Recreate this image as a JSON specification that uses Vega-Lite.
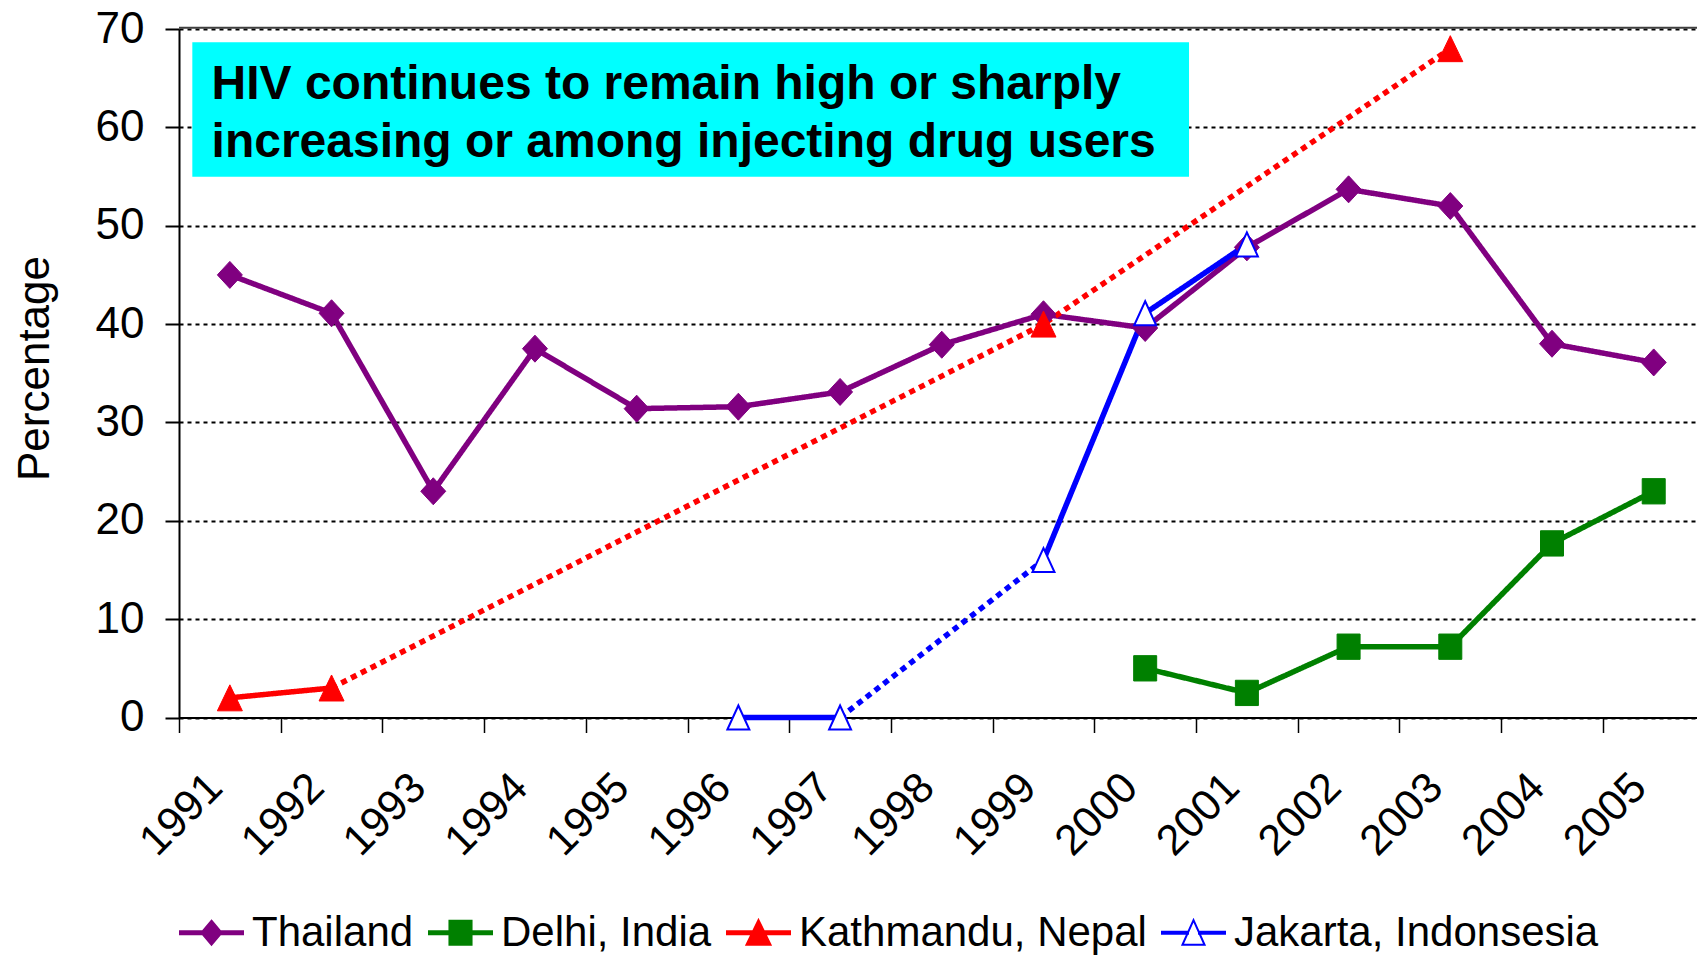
{
  "$schema": "https://vega.github.io/schema/vega-lite/v6.json",
  "autosize": {"type": "none"},
  "padding": {"left": 179, "right": 0, "top": 29, "bottom": 237.5},
  "width": 1518,
  "height": 688.5,
  "background": "white",
  "config": {
    "font": "Liberation Sans",
    "view": {"stroke": null},
    "legend": {
      "labelFontSize": 42,
      "labelColor": "black",
      "labelFont": "Liberation Sans",
      "labelLimit": 0,
      "labelOffset": 7,
      "columnPadding": 10,
      "padding": 0,
      "symbolSize": 4225,
      "symbolStrokeWidth": 2,
      "symbolFillColor": "white",
      "symbolOpacity": 1
    }
  },
  "datasets": {
    "points": [
      {"country": "Thailand", "year": 1991, "value": 45.0},
      {"country": "Thailand", "year": 1992, "value": 41.1},
      {"country": "Thailand", "year": 1993, "value": 23.0},
      {"country": "Thailand", "year": 1994, "value": 37.5},
      {"country": "Thailand", "year": 1995, "value": 31.4},
      {"country": "Thailand", "year": 1996, "value": 31.6},
      {"country": "Thailand", "year": 1997, "value": 33.1},
      {"country": "Thailand", "year": 1998, "value": 37.9},
      {"country": "Thailand", "year": 1999, "value": 41.0},
      {"country": "Thailand", "year": 2000, "value": 39.6},
      {"country": "Thailand", "year": 2001, "value": 47.8},
      {"country": "Thailand", "year": 2002, "value": 53.7},
      {"country": "Thailand", "year": 2003, "value": 52.0},
      {"country": "Thailand", "year": 2004, "value": 38.0},
      {"country": "Thailand", "year": 2005, "value": 36.1},
      {"country": "Delhi, India", "year": 2000, "value": 5.0},
      {"country": "Delhi, India", "year": 2001, "value": 2.5},
      {"country": "Delhi, India", "year": 2002, "value": 7.2},
      {"country": "Delhi, India", "year": 2003, "value": 7.2},
      {"country": "Delhi, India", "year": 2004, "value": 17.7},
      {"country": "Delhi, India", "year": 2005, "value": 23.0},
      {"country": "Kathmandu, Nepal", "year": 1991, "value": 2.0},
      {"country": "Kathmandu, Nepal", "year": 1992, "value": 3.0},
      {"country": "Kathmandu, Nepal", "year": 1999, "value": 40.0},
      {"country": "Kathmandu, Nepal", "year": 2003, "value": 68.0},
      {"country": "Jakarta, Indonsesia", "year": 1996, "value": 0.0},
      {"country": "Jakarta, Indonsesia", "year": 1997, "value": 0.0},
      {"country": "Jakarta, Indonsesia", "year": 1999, "value": 16.0},
      {"country": "Jakarta, Indonsesia", "year": 2000, "value": 41.1},
      {"country": "Jakarta, Indonsesia", "year": 2001, "value": 48.1}
    ],
    "segments": [
      {"country": "Thailand", "seg": "T", "span": "observed", "year": 1991, "value": 45.0},
      {"country": "Thailand", "seg": "T", "span": "observed", "year": 1992, "value": 41.1},
      {"country": "Thailand", "seg": "T", "span": "observed", "year": 1993, "value": 23.0},
      {"country": "Thailand", "seg": "T", "span": "observed", "year": 1994, "value": 37.5},
      {"country": "Thailand", "seg": "T", "span": "observed", "year": 1995, "value": 31.4},
      {"country": "Thailand", "seg": "T", "span": "observed", "year": 1996, "value": 31.6},
      {"country": "Thailand", "seg": "T", "span": "observed", "year": 1997, "value": 33.1},
      {"country": "Thailand", "seg": "T", "span": "observed", "year": 1998, "value": 37.9},
      {"country": "Thailand", "seg": "T", "span": "observed", "year": 1999, "value": 41.0},
      {"country": "Thailand", "seg": "T", "span": "observed", "year": 2000, "value": 39.6},
      {"country": "Thailand", "seg": "T", "span": "observed", "year": 2001, "value": 47.8},
      {"country": "Thailand", "seg": "T", "span": "observed", "year": 2002, "value": 53.7},
      {"country": "Thailand", "seg": "T", "span": "observed", "year": 2003, "value": 52.0},
      {"country": "Thailand", "seg": "T", "span": "observed", "year": 2004, "value": 38.0},
      {"country": "Thailand", "seg": "T", "span": "observed", "year": 2005, "value": 36.1},
      {"country": "Delhi, India", "seg": "D", "span": "observed", "year": 2000, "value": 5.0},
      {"country": "Delhi, India", "seg": "D", "span": "observed", "year": 2001, "value": 2.5},
      {"country": "Delhi, India", "seg": "D", "span": "observed", "year": 2002, "value": 7.2},
      {"country": "Delhi, India", "seg": "D", "span": "observed", "year": 2003, "value": 7.2},
      {"country": "Delhi, India", "seg": "D", "span": "observed", "year": 2004, "value": 17.7},
      {"country": "Delhi, India", "seg": "D", "span": "observed", "year": 2005, "value": 23.0},
      {"country": "Kathmandu, Nepal", "seg": "K1", "span": "observed", "year": 1991, "value": 2.0},
      {"country": "Kathmandu, Nepal", "seg": "K1", "span": "observed", "year": 1992, "value": 3.0},
      {"country": "Kathmandu, Nepal", "seg": "K2", "span": "gap", "year": 1992, "value": 3.0},
      {"country": "Kathmandu, Nepal", "seg": "K2", "span": "gap", "year": 1999, "value": 40.0},
      {"country": "Kathmandu, Nepal", "seg": "K2", "span": "gap", "year": 2003, "value": 68.0},
      {"country": "Jakarta, Indonsesia", "seg": "J1", "span": "observed", "year": 1996, "value": 0.0},
      {"country": "Jakarta, Indonsesia", "seg": "J1", "span": "observed", "year": 1997, "value": 0.0},
      {"country": "Jakarta, Indonsesia", "seg": "J2", "span": "gap", "year": 1997, "value": 0.0},
      {"country": "Jakarta, Indonsesia", "seg": "J2", "span": "gap", "year": 1999, "value": 16.0},
      {"country": "Jakarta, Indonsesia", "seg": "J3", "span": "observed", "year": 1999, "value": 16.0},
      {"country": "Jakarta, Indonsesia", "seg": "J3", "span": "observed", "year": 2000, "value": 41.1},
      {"country": "Jakarta, Indonsesia", "seg": "J3", "span": "observed", "year": 2001, "value": 48.1}
    ]
  },
  "layer": [
    {
      "data": {"name": "points"},
      "transform": [{"filter": "false"}],
      "mark": {"type": "point", "filled": true, "opacity": 1},
      "encoding": {
        "x": {"field": "year", "type": "quantitative"},
        "y": {"field": "value", "type": "quantitative"},
        "fill": {
          "field": "country", "type": "nominal", "title": null,
          "scale": {"domain": ["Thailand", "Delhi, India", "Kathmandu, Nepal", "Jakarta, Indonsesia"], "range": ["#800080", "#008000", "#FF0000", "#FFFFFF"]},
          "legend": {"title": null, "orient": "none", "legendX": -1, "legendY": 870, "direction": "horizontal"}
        },
        "stroke": {
          "field": "country", "type": "nominal", "title": null,
          "scale": {"domain": ["Thailand", "Delhi, India", "Kathmandu, Nepal", "Jakarta, Indonsesia"], "range": ["#800080", "#008000", "#FF0000", "#0000FF"]},
          "legend": {"title": null, "orient": "none", "legendX": -1, "legendY": 870, "direction": "horizontal"}
        },
        "shape": {
          "field": "country", "type": "nominal", "title": null,
          "scale": {
            "domain": ["Thailand", "Delhi, India", "Kathmandu, Nepal", "Jakarta, Indonsesia"],
            "range": [
              "M-0.97,-0.046H0.97V0.046H-0.97Z M0,-0.37L0.31,0L0,0.37L-0.31,0Z",
              "M-0.97,-0.046H0.97V0.046H-0.97Z M-0.34,-0.37H0.34V0.37H-0.34Z",
              "M-0.97,-0.046H0.97V0.046H-0.97Z M0,-0.39L0.37,0.37H-0.37Z",
              "M-0.97,-0.03H-0.17V0.03H-0.97Z M0.17,-0.03H0.97V0.03H0.17Z M0,-0.39L0.34,0.37H-0.34Z"
            ]
          },
          "legend": {"title": null, "orient": "none", "legendX": -1, "legendY": 870, "direction": "horizontal"}
        }
      }
    },
    {
      "data": {"values": [{}]},
      "mark": {"type": "rect", "color": "#00FFFF", "opacity": 1},
      "encoding": {
        "x": {"datum": 1990.631, "type": "quantitative"},
        "x2": {"datum": 2000.431},
        "y": {"datum": 68.65, "type": "quantitative"},
        "y2": {"datum": 54.98}
      }
    },
    {
      "data": {"values": [{}]},
      "mark": {
        "type": "text",
        "text": ["HIV continues to remain high or sharply", "increasing or among injecting drug users"],
        "align": "left",
        "baseline": "alphabetic",
        "font": "Liberation Sans",
        "fontSize": 48,
        "fontWeight": "bold",
        "lineHeight": 58,
        "color": "black"
      },
      "encoding": {
        "x": {"datum": 1990.82, "type": "quantitative"},
        "y": {"datum": 62.88, "type": "quantitative"}
      }
    },
    {
      "data": {"name": "segments"},
      "mark": {"type": "line", "strokeWidth": 5.5, "strokeCap": "butt", "strokeJoin": "miter"},
      "encoding": {
        "x": {
          "field": "year", "type": "quantitative",
          "scale": {"domain": [1990.5, 2005.4257], "nice": false, "zero": false},
          "axis": {
            "values": [1990.5, 1991.5, 1992.5, 1993.5, 1994.5, 1995.5, 1996.5, 1997.5, 1998.5, 1999.5, 2000.5, 2001.5, 2002.5, 2003.5, 2004.5],
            "labelExpr": "format(datum.value + 0.5, 'd')",
            "title": null,
            "grid": false,
            "domainColor": "black",
            "domainWidth": 2,
            "tickColor": "black",
            "tickWidth": 1.5,
            "tickSize": 15,
            "labelAngle": -45,
            "labelAlign": "right",
            "labelBaseline": "middle",
            "labelFontSize": 43,
            "labelColor": "black",
            "labelPadding": 48,
            "labelOffset": 36,
            "labelFlush": false,
            "labelOverlap": false,
            "labelBound": false
          }
        },
        "y": {
          "field": "value", "type": "quantitative",
          "scale": {"domain": [0, 70], "nice": false, "zero": true},
          "axis": {
            "values": [0, 10, 20, 30, 40, 50, 60, 70],
            "title": "Percentage",
            "titleFontSize": 44,
            "titleFontWeight": "normal",
            "titleColor": "black",
            "titlePadding": 38,
            "titleY": 339,
            "grid": true,
            "gridColor": "black",
            "gridDash": [4, 4],
            "gridWidth": 2,
            "domainColor": "black",
            "domainWidth": 2,
            "tickColor": "black",
            "tickWidth": 2,
            "tickSize": 14,
            "labelFontSize": 44,
            "labelColor": "black",
            "labelPadding": 21,
            "labelFlush": false,
            "labelOverlap": false,
            "labelBound": false
          }
        },
        "color": {
          "field": "country", "type": "nominal",
          "scale": {"domain": ["Thailand", "Delhi, India", "Kathmandu, Nepal", "Jakarta, Indonsesia"], "range": ["#800080", "#008000", "#FF0000", "#0000FF"]},
          "legend": null
        },
        "detail": {"field": "seg", "type": "nominal"},
        "strokeDash": {
          "field": "span", "type": "nominal",
          "scale": {"domain": ["observed", "gap"], "range": [[1, 0], [6, 5]]},
          "legend": null
        }
      }
    },
    {
      "data": {"name": "points"},
      "transform": [{"filter": "datum.country === 'Thailand'"}],
      "mark": {"type": "point", "shape": "M0,-1.08L1,0L0,1.08L-1,0Z", "size": 625, "filled": true, "fill": "#800080", "stroke": "#800080", "strokeWidth": 1, "opacity": 1},
      "encoding": {
        "x": {"field": "year", "type": "quantitative"},
        "y": {"field": "value", "type": "quantitative"}
      }
    },
    {
      "data": {"name": "points"},
      "transform": [{"filter": "datum.country === 'Delhi, India'"}],
      "mark": {"type": "point", "shape": "M-1,-1.1H1V1.1H-1Z", "size": 529, "filled": true, "fill": "#008000", "stroke": "#008000", "strokeWidth": 1, "opacity": 1},
      "encoding": {
        "x": {"field": "year", "type": "quantitative"},
        "y": {"field": "value", "type": "quantitative"}
      }
    },
    {
      "data": {"name": "points"},
      "transform": [{"filter": "datum.country === 'Kathmandu, Nepal'"}],
      "mark": {"type": "point", "shape": "M0,-1.04L1,1.04H-1Z", "size": 625, "filled": true, "fill": "#FF0000", "stroke": "#FF0000", "strokeWidth": 1, "opacity": 1},
      "encoding": {
        "x": {"field": "year", "type": "quantitative"},
        "y": {"field": "value", "type": "quantitative"}
      }
    },
    {
      "data": {"name": "points"},
      "transform": [{"filter": "datum.country === 'Jakarta, Indonsesia'"}],
      "mark": {"type": "point", "shape": "M0,-1.09L1,1.09H-1Z", "size": 484, "filled": true, "fill": "#FFFFFF", "stroke": "#0000FF", "strokeWidth": 2, "opacity": 1},
      "encoding": {
        "x": {"field": "year", "type": "quantitative"},
        "y": {"field": "value", "type": "quantitative"}
      }
    },
    {
      "data": {"values": [{}]},
      "mark": {"type": "rule", "color": "#404040", "strokeWidth": 2},
      "encoding": {
        "y": {"datum": 70.13, "type": "quantitative"}
      }
    }
  ]
}
